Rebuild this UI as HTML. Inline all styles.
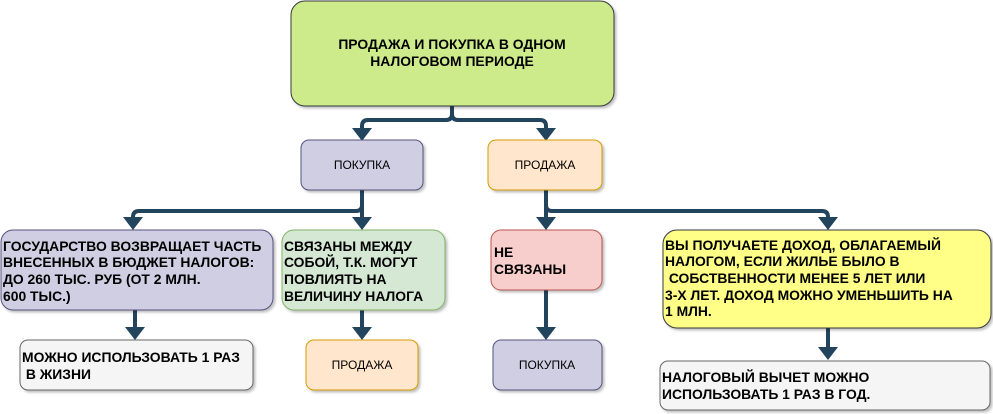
<!DOCTYPE html>
<html><head><meta charset="utf-8"><style>
html,body{margin:0;padding:0;background:#fff;width:993px;height:414px;overflow:hidden}
svg text{font-family:"Liberation Sans","DejaVu Sans",sans-serif;fill:#000}
.b{font-weight:bold;font-size:13.9px}
.n{font-size:12px}
</style></head><body>
<svg width="993" height="414" viewBox="0 0 993 414" xmlns="http://www.w3.org/2000/svg">
<defs>
<filter id="s" x="-5%" y="-5%" width="110%" height="120%"><feDropShadow dx="2" dy="2" stdDeviation="1.2" flood-color="#000" flood-opacity="0.25"/></filter>
</defs>
<g fill="none" stroke="#23445d" stroke-width="4">
<path d="M452,106 V114 Q452,120 446,120 H368 Q362,120 362,126 V132" />
<path d="M452,114 Q452,120 458,120 H540 Q546,120 546,126 V132" />
<path d="M362,190 V205 Q362,211 356,211 H139 Q133,211 133,217 V222" />
<path d="M362,205 V222" />
<path d="M546,190 V205 Q546,211 552,211 H822 Q828,211 828,217 V222" />
<path d="M546,205 V222" />
<path d="M135,310 V332" />
<path d="M362,310 V332" />
<path d="M546,290 V332" />
<path d="M828,328 V352" />
</g>
<g fill="#23445d">
<path d="M352,128 L372,128 L362,141 z"/>
<path d="M536,128 L556,128 L546,141 z"/>
<path d="M123,217 L143,217 L133,230 z"/>
<path d="M352,217 L372,217 L362,230 z"/>
<path d="M536,217 L556,217 L546,230 z"/>
<path d="M818,217 L838,217 L828,230 z"/>
<path d="M125,327 L145,327 L135,340 z"/>
<path d="M352,327 L372,327 L362,340 z"/>
<path d="M536,327 L556,327 L546,340 z"/>
<path d="M818,347 L838,347 L828,360 z"/>
</g>
<g filter="url(#s)" stroke-width="1">
<rect x="291" y="1" width="323" height="105" rx="14" fill="#cdeb8b" stroke="#36393d"/>
<rect x="301" y="140" width="122" height="50" rx="8" fill="#d0cee2" stroke="#56517e"/>
<rect x="488" y="140" width="114" height="50" rx="8" fill="#ffe6cc" stroke="#d79b00"/>
<rect x="1" y="230" width="272" height="80" rx="12" fill="#d0cee2" stroke="#56517e"/>
<rect x="282" y="230" width="163" height="80" rx="12" fill="#d5e8d4" stroke="#82b366"/>
<rect x="491" y="230" width="111" height="60" rx="10" fill="#f8cecc" stroke="#b85450"/>
<rect x="663" y="230" width="328" height="98" rx="14" fill="#ffff88" stroke="#36393d"/>
<rect x="20" y="340" width="233" height="50" rx="8" fill="#f5f5f5" stroke="#666"/>
<rect x="306" y="340" width="112" height="50" rx="8" fill="#ffe6cc" stroke="#d79b00"/>
<rect x="493" y="340" width="109" height="50" rx="8" fill="#d0cee2" stroke="#56517e"/>
<rect x="660" y="361" width="330" height="49" rx="8" fill="#f5f5f5" stroke="#666"/>
</g>
<text class="b" x="452" y="49" text-anchor="middle">ПРОДАЖА И ПОКУПКА В ОДНОМ</text>
<text class="b" x="452" y="66" text-anchor="middle">НАЛОГОВОМ ПЕРИОДЕ</text>
<text class="n" x="362" y="169" text-anchor="middle">ПОКУПКА</text>
<text class="n" x="545" y="169" text-anchor="middle">ПРОДАЖА</text>
<text class="b" x="3" y="251">ГОСУДАРСТВО ВОЗВРАЩАЕТ ЧАСТЬ</text>
<text class="b" x="3" y="267">ВНЕСЕННЫХ В БЮДЖЕТ НАЛОГОВ:</text>
<text class="b" x="3" y="284">ДО 260 ТЫС. РУБ (ОТ 2 МЛН.</text>
<text class="b" x="3" y="301">600 ТЫС.)</text>
<text class="b" x="284" y="251">СВЯЗАНЫ МЕЖДУ</text>
<text class="b" x="284" y="267">СОБОЙ, Т.К. МОГУТ</text>
<text class="b" x="284" y="284">ПОВЛИЯТЬ НА</text>
<text class="b" x="284" y="301">ВЕЛИЧИНУ НАЛОГА</text>
<text class="b" x="494" y="257">НЕ</text>
<text class="b" x="494" y="274">СВЯЗАНЫ</text>
<text class="b" x="665" y="250">ВЫ ПОЛУЧАЕТЕ ДОХОД, ОБЛАГАЕМЫЙ</text>
<text class="b" x="665" y="266">НАЛОГОМ, ЕСЛИ ЖИЛЬЕ БЫЛО В</text>
<text class="b" x="665" y="283" xml:space="preserve"> СОБСТВЕННОСТИ МЕНЕЕ 5 ЛЕТ ИЛИ</text>
<text class="b" x="665" y="300">3-Х ЛЕТ. ДОХОД МОЖНО УМЕНЬШИТЬ НА</text>
<text class="b" x="665" y="316">1 МЛН.</text>
<text class="b" x="22" y="362">МОЖНО ИСПОЛЬЗОВАТЬ 1 РАЗ</text>
<text class="b" x="22" y="379" xml:space="preserve"> В ЖИЗНИ</text>
<text class="n" x="362" y="369" text-anchor="middle">ПРОДАЖА</text>
<text class="n" x="547" y="369" text-anchor="middle">ПОКУПКА</text>
<text class="b" x="662" y="382">НАЛОГОВЫЙ ВЫЧЕТ МОЖНО</text>
<text class="b" x="662" y="399">ИСПОЛЬЗОВАТЬ 1 РАЗ В ГОД.</text>
</svg>
</body></html>
